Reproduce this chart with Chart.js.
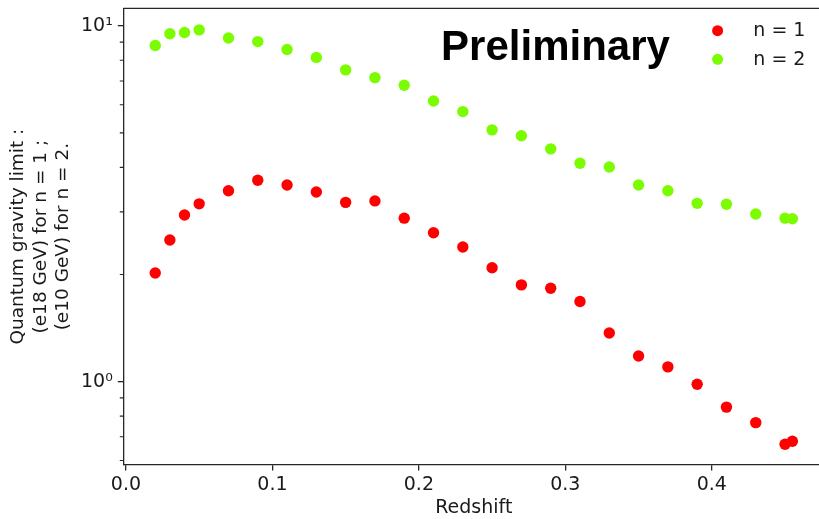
<!DOCTYPE html>
<html>
<head>
<meta charset="utf-8">
<script src="https://cdn.jsdelivr.net/npm/chart.js@4/dist/chart.umd.min.js"></script>
<style>
  html, body { margin: 0; padding: 0; background: #ffffff; overflow: hidden; }
  #frame { width: 819px; height: 519px; overflow: hidden; position: relative; }
  canvas { display: block; }
</style>
</head>
<body>
<div id="frame"><canvas id="c" width="830" height="519"></canvas></div>
<script>
// Redshift bins and the quantum gravity limits for both cases
const redshift = [0.02, 0.03, 0.04, 0.05, 0.07, 0.09, 0.11, 0.13, 0.15, 0.17, 0.19, 0.21, 0.23,
                  0.25, 0.27, 0.29, 0.31, 0.33, 0.35, 0.37, 0.39, 0.41, 0.43, 0.45, 0.455];
const limitN1 = [2.02, 2.50, 2.94, 3.16, 3.44, 3.68, 3.57, 3.41, 3.19, 3.22, 2.88, 2.62, 2.39,
                 2.09, 1.87, 1.83, 1.68, 1.37, 1.18, 1.10, 0.983, 0.848, 0.767, 0.667, 0.680];
const limitN2 = [8.80, 9.50, 9.58, 9.74, 9.24, 9.03, 8.58, 8.15, 7.52, 7.15, 6.81, 6.15, 5.74,
                 5.10, 4.91, 4.51, 4.11, 4.01, 3.57, 3.44, 3.17, 3.15, 2.96, 2.88, 2.87];

const seriesLabels = ['n = 1', 'n = 2'];
const xTicks = [0, 0.1, 0.2, 0.3, 0.4];
const xTickLabels = ['0.0', '0.1', '0.2', '0.3', '0.4'];
const yMajorTicks = [1, 10];
const yTickLabels = ['10\u2070', '10\u00b9'];
const yMinorTicks = [0.6, 0.7, 0.8, 0.9, 2, 3, 4, 5, 6, 7, 8, 9];

const INK = '#1a1a1a';
const SPINE = '#262626';

Chart.defaults.font.family = "'DejaVu Sans', sans-serif";
Chart.defaults.color = INK;

const toPoints = ys => redshift.map((x, i) => ({ x: x, y: ys[i] }));

// Top spine, minor log ticks, inline legend and the watermark text
const decorations = {
  id: 'decorations',
  afterDraw(chart) {
    const { ctx, chartArea: a, scales } = chart;
    ctx.save();
    ctx.strokeStyle = SPINE;
    ctx.lineWidth = 1.3;
    ctx.beginPath();
    ctx.moveTo(a.left, a.top);
    ctx.lineTo(a.right, a.top);
    ctx.stroke();

    ctx.lineWidth = 1.1;
    ctx.beginPath();
    yMinorTicks.forEach(v => {
      const py = scales.y.getPixelForValue(v);
      ctx.moveTo(a.left - 3.5, py);
      ctx.lineTo(a.left, py);
    });
    ctx.stroke();

    // legend in the upper right corner
    chart.data.datasets.forEach((ds, i) => {
      const cy = a.top + 22.4 + i * 28.6;
      ctx.fillStyle = ds.backgroundColor;
      ctx.beginPath();
      ctx.arc(a.right - 106.7, cy, 5.5, 0, Math.PI * 2);
      ctx.fill();
      ctx.fillStyle = INK;
      ctx.font = "19px 'DejaVu Sans', sans-serif";
      ctx.textAlign = 'left';
      ctx.textBaseline = 'alphabetic';
      ctx.fillText(ds.label, a.right - 71, cy + 5.6);
    });

    ctx.fillStyle = '#000000';
    ctx.font = "bold 42px 'Liberation Sans', Arial, sans-serif";
    ctx.textAlign = 'center';
    ctx.textBaseline = 'alphabetic';
    ctx.fillText('Preliminary', a.left + 432.2, a.top + 51.7);
    ctx.restore();
  }
};

new Chart(document.getElementById('c'), {
  type: 'scatter',
  data: {
    datasets: [
      {
        label: seriesLabels[0],
        data: toPoints(limitN1),
        backgroundColor: '#ff0000',
        borderWidth: 0,
        pointRadius: 5.7,
        pointHoverRadius: 5.7
      },
      {
        label: seriesLabels[1],
        data: toPoints(limitN2),
        backgroundColor: '#7cfc00',
        borderWidth: 0,
        pointRadius: 5.7,
        pointHoverRadius: 5.7
      }
    ]
  },
  options: {
    responsive: false,
    animation: false,
    devicePixelRatio: 1,
    layout: { padding: { left: 0, top: 8.3, right: 4, bottom: 0 } },
    plugins: {
      legend: { display: false },
      tooltip: { enabled: false }
    },
    scales: {
      x: {
        type: 'linear',
        min: -0.0018,
        max: 0.4768,
        afterBuildTicks(scale) {
          scale.ticks = xTicks.map(v => ({ value: v }));
        },
        afterFit(scale) {
          scale.height = 54;
          scale.paddingLeft = 0;
          scale.paddingRight = 0;
        },
        ticks: {
          autoSkip: false,
          maxRotation: 0,
          padding: 3,
          color: INK,
          font: { size: 19, lineHeight: 1.2 },
          callback: (value, index) => xTickLabels[index]
        },
        grid: {
          drawOnChartArea: false,
          drawTicks: true,
          tickLength: 5.5,
          lineWidth: 1.3,
          tickColor: SPINE
        },
        border: { display: true, color: SPINE, width: 1.3 },
        title: {
          display: true,
          text: 'Redshift',
          color: INK,
          font: { size: 19, lineHeight: 1.1 },
          padding: { top: 0, bottom: 0 }
        }
      },
      y: {
        type: 'logarithmic',
        min: 0.583,
        max: 11.2,
        afterBuildTicks(scale) {
          const all = yMinorTicks.concat(yMajorTicks).sort((p, q) => p - q);
          scale.ticks = all.map(v => ({ value: v, major: yMajorTicks.includes(v) }));
        },
        afterFit(scale) {
          scale.width = 123.3;
          scale.paddingTop = 0;
          scale.paddingBottom = 0;
        },
        ticks: {
          autoSkip: false,
          padding: 5,
          color: INK,
          font: { size: 19 },
          callback: function (value) {
            const k = yMajorTicks.indexOf(value);
            return k >= 0 ? yTickLabels[k] : '';
          }
        },
        grid: {
          drawOnChartArea: false,
          drawTicks: true,
          tickLength: 5.5,
          lineWidth: 1.3,
          tickColor: ctx => (ctx.tick && ctx.tick.major) ? SPINE : 'rgba(0,0,0,0)'
        },
        border: { display: true, color: SPINE, width: 1.3 },
        title: {
          display: true,
          text: ['Quantum gravity limit :', '(e18 GeV) for n = 1 ;', '(e10 GeV) for n = 2.'],
          color: INK,
          font: { size: 18.5, lineHeight: 1.2 },
          padding: { top: 7.4, bottom: 0 }
        }
      }
    }
  },
  plugins: [decorations]
});
</script>
</body>
</html>
